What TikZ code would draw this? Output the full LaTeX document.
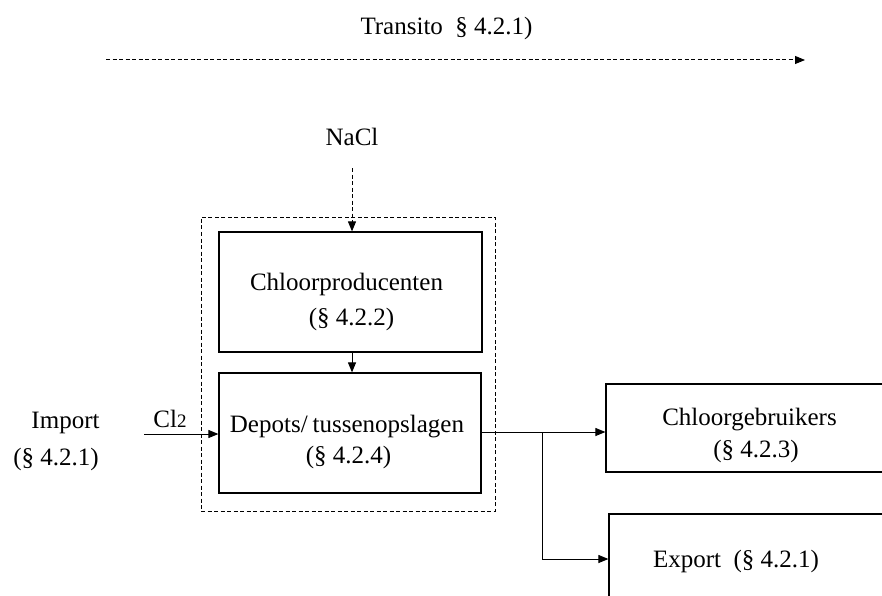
\documentclass[tikz,border=0pt]{standalone}
\usepackage{fontspec}
\setmainfont{Liberation Serif}
\usetikzlibrary{arrows.meta}
\begin{document}
\begin{tikzpicture}[x=1pt,y=-1pt,
  box/.style={draw, line width=1.2pt, inner sep=0pt},
  frame/.style={draw, line width=1pt, dash pattern=on 4pt off 2.5pt, inner sep=0pt},
  lbl/.style={anchor=base, inner sep=0pt, font=\fontsize{25}{30}\selectfont},
  flow/.style={line width=1pt, -{Triangle[length=10pt,width=8pt]}},
  dflow/.style={flow, dash pattern=on 4pt off 2.5pt},
  plain/.style={line width=1pt},
]
\useasboundingbox (0,0) rectangle (882,596);
\clip (0,0) rectangle (882,596);

% transit flow across the top
\node[lbl] (transito) at (446.5,35) {Transito \ \S\ 4.2.1)};
\coordinate (transA) at (106,60);
\coordinate (transB) at (805,60);
\draw[dflow] (transA) -- (transB);

% production and storage, grouped
\node[frame, minimum width=294pt, minimum height=294pt] (group) at (348,364) {};
\node[box, minimum width=263pt, minimum height=120pt] (prod) at (350.5,292) {};
\node[lbl] (prodA) at (346.5,290) {Chloorproducenten};
\node[lbl] (prodB) at (351.5,325) {(\S\ 4.2.2)};
\node[box, minimum width=262pt, minimum height=120pt] (dep) at (350,433) {};
\node[lbl] (depA) at (347,432) {Depots/\kern5pt tussenopslagen};
\node[lbl] (depB) at (348.5,463) {(\S\ 4.2.4)};

% salt input
\node[lbl] (nacl) at (352,146) {NaCl};
\coordinate (naclOut) at (352,168);
\draw[dflow] (naclOut) -- (naclOut |- prod.north);
\draw[flow] (prod.south -| naclOut) -- (dep.north -| naclOut);

% import
\node[lbl] (impA) at (65.5,428) {Import};
\node[lbl] (impB) at (56,465) {(\S\ 4.2.1)};
\node[lbl] (cl) at (170,427) {Cl{\fontsize{19}{22}\selectfont 2}};
\coordinate (impOut) at (144,434);
\draw[flow] (impOut) -- (impOut -| dep.west);

% users and export
\node[box, minimum width=294pt, minimum height=88pt] (users) at (753,428) {};
\node[lbl] (usersA) at (749.5,425) {Chloorgebruikers};
\node[lbl] (usersB) at (756,457) {(\S\ 4.2.3)};
\node[box, minimum width=291pt, minimum height=106pt] (export) at (754.5,567) {};
\node[lbl] (exportA) at (736,567) {Export \ (\S\ 4.2.1)};

\coordinate (split) at (542,432);
\coordinate (expIn) at (542,559);
\draw[plain] (dep.east |- split) -- (split);
\draw[flow] (split) -- (split -| users.west);
\draw[flow] (split) -- (expIn) -- (expIn -| export.west);
\end{tikzpicture}
\end{document}
